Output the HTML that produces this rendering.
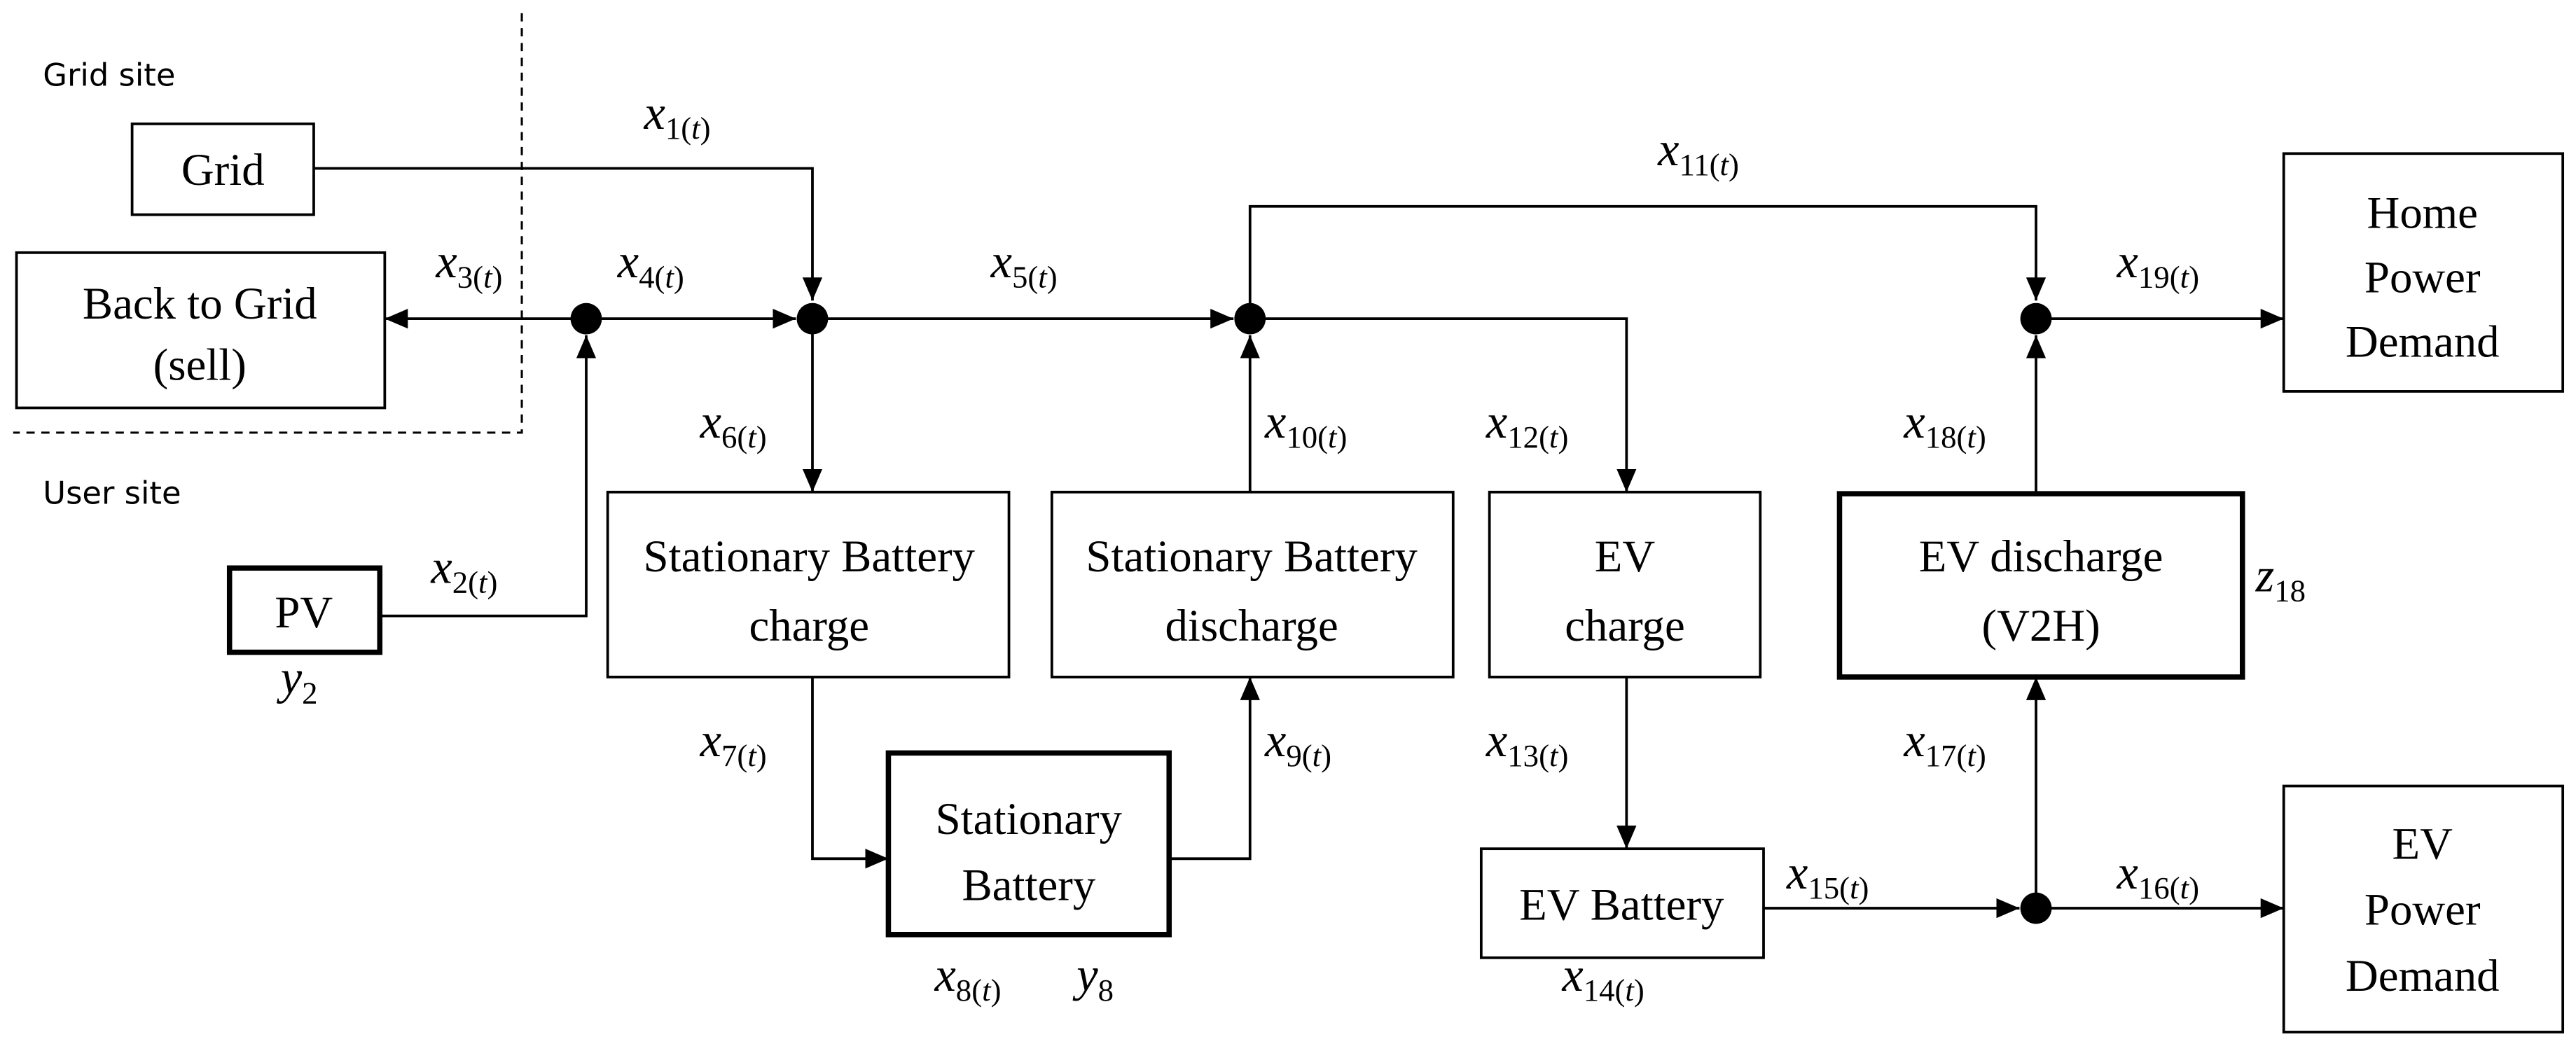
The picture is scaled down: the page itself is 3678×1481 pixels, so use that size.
<!DOCTYPE html>
<html><head><meta charset="utf-8"><style>
html,body{margin:0;padding:0;background:#fff;}
svg{display:block;}
text{font-family:"Liberation Serif",serif;fill:#000;}
.b{font-size:27.5px;text-anchor:middle;}
.l{font-size:29px;font-style:italic;}
.s{font-size:19px;font-style:normal;}
.si{font-size:19px;font-style:italic;}
.g{font-family:"DejaVu Sans","Liberation Sans",sans-serif;font-size:19px;}
</style></head><body>
<svg width="3678" height="1481" viewBox="0 0 1560 628" preserveAspectRatio="none" xmlns="http://www.w3.org/2000/svg">
<defs><marker id="a" markerWidth="14" markerHeight="12" refX="14" refY="6" orient="auto" markerUnits="userSpaceOnUse"><path d="M0,0 L14,6 L0,12 z" fill="#000"/></marker></defs>
<g fill="none" stroke="#000" stroke-width="1.6">
<path d="M316,8 V262 H8" stroke-dasharray="5,4" stroke-width="1.3"/>
<rect x="80" y="75" width="110" height="55"/>
<rect x="10" y="153" width="223" height="94"/>
<rect x="139" y="344" width="91" height="51" stroke-width="3.2"/>
<rect x="368" y="298" width="243" height="112"/>
<rect x="637" y="298" width="243" height="112"/>
<rect x="902" y="298" width="164" height="112"/>
<rect x="1114" y="299" width="244" height="111" stroke-width="3.2"/>
<rect x="538" y="456" width="170" height="110" stroke-width="3.2"/>
<rect x="897" y="514" width="171" height="66"/>
<rect x="1383" y="93" width="169" height="144"/>
<rect x="1383" y="476" width="169" height="149"/>
<path d="M190,102 H492 V182" marker-end="url(#a)"/>
<path d="M346,193 H233" marker-end="url(#a)"/>
<path d="M364,193 H482" marker-end="url(#a)"/>
<path d="M230,373 H355 V203" marker-end="url(#a)"/>
<path d="M501,193 H747" marker-end="url(#a)"/>
<path d="M492,202 V298" marker-end="url(#a)"/>
<path d="M757,184 V125 H1233 V182" marker-end="url(#a)"/>
<path d="M766,193 H985 V298" marker-end="url(#a)"/>
<path d="M757,298 V203" marker-end="url(#a)"/>
<path d="M1242,193 H1383" marker-end="url(#a)"/>
<path d="M1233,299 V203" marker-end="url(#a)"/>
<path d="M492,410 V520 H538" marker-end="url(#a)"/>
<path d="M708,520 H757 V410" marker-end="url(#a)"/>
<path d="M985,410 V514" marker-end="url(#a)"/>
<path d="M1068,550 H1223" marker-end="url(#a)"/>
<path d="M1242,550 H1383" marker-end="url(#a)"/>
<path d="M1233,541 V410" marker-end="url(#a)"/>
</g>
<g fill="#000">
<circle cx="355" cy="193" r="9.5"/><circle cx="492" cy="193" r="9.5"/><circle cx="757" cy="193" r="9.5"/>
<circle cx="1233" cy="193" r="9.5"/><circle cx="1233" cy="550" r="9.5"/>
</g>
<text class="g" x="26" y="52">Grid site</text>
<text class="g" x="26" y="305">User site</text>
<text class="b" x="135" y="112">Grid</text>
<text class="b" x="121" y="193">Back to Grid</text>
<text class="b" x="121" y="230">(sell)</text>
<text class="b" x="184" y="380">PV</text>
<text class="b" x="490" y="346">Stationary Battery</text>
<text class="b" x="490" y="388">charge</text>
<text class="b" x="758" y="346">Stationary Battery</text>
<text class="b" x="758" y="388">discharge</text>
<text class="b" x="984" y="346">EV</text>
<text class="b" x="984" y="388">charge</text>
<text class="b" x="1236" y="346">EV discharge</text>
<text class="b" x="1236" y="388">(V2H)</text>
<text class="b" x="623" y="505">Stationary</text>
<text class="b" x="623" y="545">Battery</text>
<text class="b" x="982" y="557">EV Battery</text>
<text class="b" x="1467" y="138">Home</text>
<text class="b" x="1467" y="177">Power</text>
<text class="b" x="1467" y="216">Demand</text>
<text class="b" x="1467" y="520">EV</text>
<text class="b" x="1467" y="560">Power</text>
<text class="b" x="1467" y="600">Demand</text>
<text class="l" x="390" y="78">x<tspan class="s" dy="6">1(</tspan><tspan class="si">t</tspan><tspan class="s">)</tspan></text>
<text class="l" x="264" y="168">x<tspan class="s" dy="6">3(</tspan><tspan class="si">t</tspan><tspan class="s">)</tspan></text>
<text class="l" x="374" y="168">x<tspan class="s" dy="6">4(</tspan><tspan class="si">t</tspan><tspan class="s">)</tspan></text>
<text class="l" x="261" y="353">x<tspan class="s" dy="6">2(</tspan><tspan class="si">t</tspan><tspan class="s">)</tspan></text>
<text class="l" x="170" y="420">y<tspan class="s" dy="6">2</tspan></text>
<text class="l" x="600" y="168">x<tspan class="s" dy="6">5(</tspan><tspan class="si">t</tspan><tspan class="s">)</tspan></text>
<text class="l" x="424" y="265">x<tspan class="s" dy="6">6(</tspan><tspan class="si">t</tspan><tspan class="s">)</tspan></text>
<text class="l" x="424" y="458">x<tspan class="s" dy="6">7(</tspan><tspan class="si">t</tspan><tspan class="s">)</tspan></text>
<text class="l" x="566" y="600">x<tspan class="s" dy="6">8(</tspan><tspan class="si">t</tspan><tspan class="s">)</tspan></text>
<text class="l" x="652" y="600">y<tspan class="s" dy="6">8</tspan></text>
<text class="l" x="766" y="458">x<tspan class="s" dy="6">9(</tspan><tspan class="si">t</tspan><tspan class="s">)</tspan></text>
<text class="l" x="766" y="265">x<tspan class="s" dy="6">10(</tspan><tspan class="si">t</tspan><tspan class="s">)</tspan></text>
<text class="l" x="1004" y="100">x<tspan class="s" dy="6">11(</tspan><tspan class="si">t</tspan><tspan class="s">)</tspan></text>
<text class="l" x="900" y="265">x<tspan class="s" dy="6">12(</tspan><tspan class="si">t</tspan><tspan class="s">)</tspan></text>
<text class="l" x="900" y="458">x<tspan class="s" dy="6">13(</tspan><tspan class="si">t</tspan><tspan class="s">)</tspan></text>
<text class="l" x="946" y="600">x<tspan class="s" dy="6">14(</tspan><tspan class="si">t</tspan><tspan class="s">)</tspan></text>
<text class="l" x="1082" y="538">x<tspan class="s" dy="6">15(</tspan><tspan class="si">t</tspan><tspan class="s">)</tspan></text>
<text class="l" x="1282" y="538">x<tspan class="s" dy="6">16(</tspan><tspan class="si">t</tspan><tspan class="s">)</tspan></text>
<text class="l" x="1153" y="458">x<tspan class="s" dy="6">17(</tspan><tspan class="si">t</tspan><tspan class="s">)</tspan></text>
<text class="l" x="1153" y="265">x<tspan class="s" dy="6">18(</tspan><tspan class="si">t</tspan><tspan class="s">)</tspan></text>
<text class="l" x="1282" y="168">x<tspan class="s" dy="6">19(</tspan><tspan class="si">t</tspan><tspan class="s">)</tspan></text>
<text class="l" x="1366" y="358">z<tspan class="s" dy="6">18</tspan></text>
</svg>
</body></html>
